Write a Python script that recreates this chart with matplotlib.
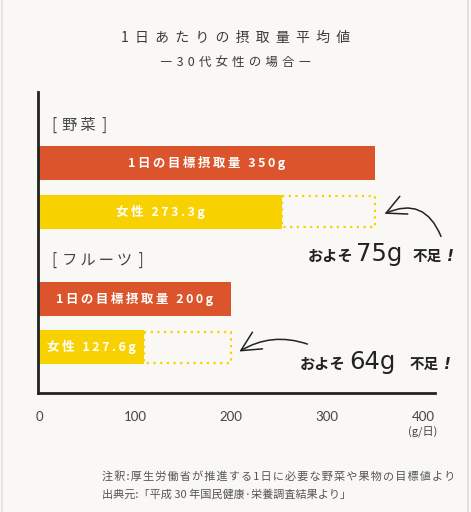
import matplotlib
matplotlib.use('Agg')
import matplotlib.pyplot as plt
from matplotlib.patches import Rectangle, FancyArrowPatch
from matplotlib.lines import Line2D

plt.rcParams['font.family'] = ['Noto Sans CJK JP', 'DejaVu Sans']

# ---------------- data ----------------
groups = ['野菜', 'フルーツ']
target_values = [350, 200]              # 1日の目標摂取量 (g)
women_values = [253, 109]               # drawn bar lengths
target_labels = ['1日の目標摂取量 350g', '1日の目標摂取量 200g']
women_labels = ['女性 273.3g', '女性 127.6g']
shortfall = ['75g', '64g']
x_ticks = [0, 100, 200, 300, 400]
x_tick_labels = ['0', '100', '200', '300', '400']

title = '1日あたりの摂取量平均値'
subtitle = '―30代女性の場合―'
unit = '(g/日)'
note1 = '注釈:厚生労働省が推進する1日に必要な野菜や果物の目標値より'
note2 = '出典元:「平成 30 年国民健康·栄養調査結果より」'

# ---------------- style ----------------
BG = '#f9f8f4'
RED = '#dc542b'
YEL = '#f7d200'
INK = '#222222'
W, H = 471, 512


def fx(x):
    return x / W


def fy(y):
    return 1 - y / H


def spaced(s, sp):
    return sp.join(list(s))


fig = plt.figure(figsize=(W / 100, H / 100), dpi=100, facecolor=BG)

# frame lines at edges
fig.add_artist(Line2D([fx(1.5), fx(1.5)], [0, 1], transform=fig.transFigure,
                      color='#e2e1dc', lw=1.2))
fig.add_artist(Line2D([fx(467.5), fx(467.5)], [0, 1], transform=fig.transFigure,
                      color='#deddd8', lw=1.2))

ax = fig.add_axes([fx(38), fy(393), 397 / W, 301 / H])
ax.set_facecolor(BG)
ax.set_xlim(-1.04, 412.5)
ax.set_ylim(301, 0)

bar_h = 34
group_gap = 135.5
row_gap = 48.5
first = 71

for g, name in enumerate(groups):
    y_t = first + g * group_gap
    y_w = y_t + row_gap
    ax.barh(y_t, target_values[g], height=bar_h, color=RED, left=0)
    ax.barh(y_w, women_values[g], height=bar_h, color=YEL, left=0)
    ax.add_patch(Rectangle((women_values[g], y_w - bar_h / 2 + 1.5),
                           target_values[g] - women_values[g], bar_h - 3,
                           fill=False, edgecolor=YEL, lw=1.6,
                           linestyle=(0, (1, 2))))
    ax.text(target_values[g] / 2, y_t, spaced(target_labels[g], '\u2009'),
            ha='center', va='center', color='white', fontsize=9,
            fontweight='bold')
    ax.text(women_values[g] / 2, y_w, spaced(women_labels[g], '\u2009'),
            ha='center', va='center', color='white', fontsize=9,
            fontweight='bold')
    ax.text(14, y_t - 38,
            '[\u2004' + spaced(name, '\u2009') + '\u2004\u200a]',
            ha='left', va='center', color='#444444', fontsize=11)

for side in ['top', 'right']:
    ax.spines[side].set_visible(False)
for side in ['left', 'bottom']:
    ax.spines[side].set_linewidth(2)
    ax.spines[side].set_color(INK)
    ax.spines[side].set_capstyle('projecting')

ax.set_yticks([])
ax.set_xticks(x_ticks)
ax.set_xticklabels(x_tick_labels, fontfamily='Lato', fontsize=9.5,
                   color='#444444')
ax.tick_params(axis='x', length=0, pad=13)

# titles
fig.text(fx(236), fy(38), spaced(title, '\u2005\u2009'), ha='center',
         va='center', fontsize=10, color='#3a3a3a')
fig.text(fx(236), fy(63), spaced(subtitle, '\u2004'), ha='center', va='center',
         fontsize=9, color='#3a3a3a')

fig.text(fx(423), fy(432), unit, ha='center', va='center', fontsize=8,
         color='#444444')

fig.text(fx(102), fy(476), spaced(note1, '\u200a'), ha='left', va='center',
         fontsize=8, color='#555555')
fig.text(fx(102), fy(495), note2, ha='left', va='center',
         fontsize=8, color='#555555')

# shortfall annotations
ann = [((308, 356, 413), 261), ((300, 349, 410), 369)]
for (xs, base), sf in zip(ann, shortfall):
    fig.text(fx(xs[0]), fy(base), 'およそ', ha='left', va='baseline',
             fontsize=11, fontweight='bold', color=INK)
    fig.text(fx(xs[1]), fy(base), sf, ha='left', va='baseline',
             fontsize=17.5, fontfamily='DejaVu Sans', fontweight='normal',
             color=INK)
    fig.text(fx(xs[2]), fy(base), '不足', ha='left', va='baseline',
             fontsize=10.5, fontweight='bold', color=INK)
    fig.text(fx(xs[2] + 34), fy(base), '!', ha='left', va='baseline',
             fontsize=11, fontfamily='DejaVu Sans', style='italic',
             fontweight='bold', color=INK)

arrows = [((442, 239), (382, 215), 0.55), ((310, 345), (237, 353), 0.25)]
for (a, b, r) in arrows:
    fig.add_artist(FancyArrowPatch((fx(a[0]), fy(a[1])), (fx(b[0]), fy(b[1])),
                                   transform=fig.transFigure,
                                   connectionstyle=f'arc3,rad={r}',
                                   arrowstyle='->,head_length=0.7,head_width=0.35',
                                   mutation_scale=20, lw=1.1, color=INK))

fig.savefig('out.png', dpi=100, facecolor=BG)
